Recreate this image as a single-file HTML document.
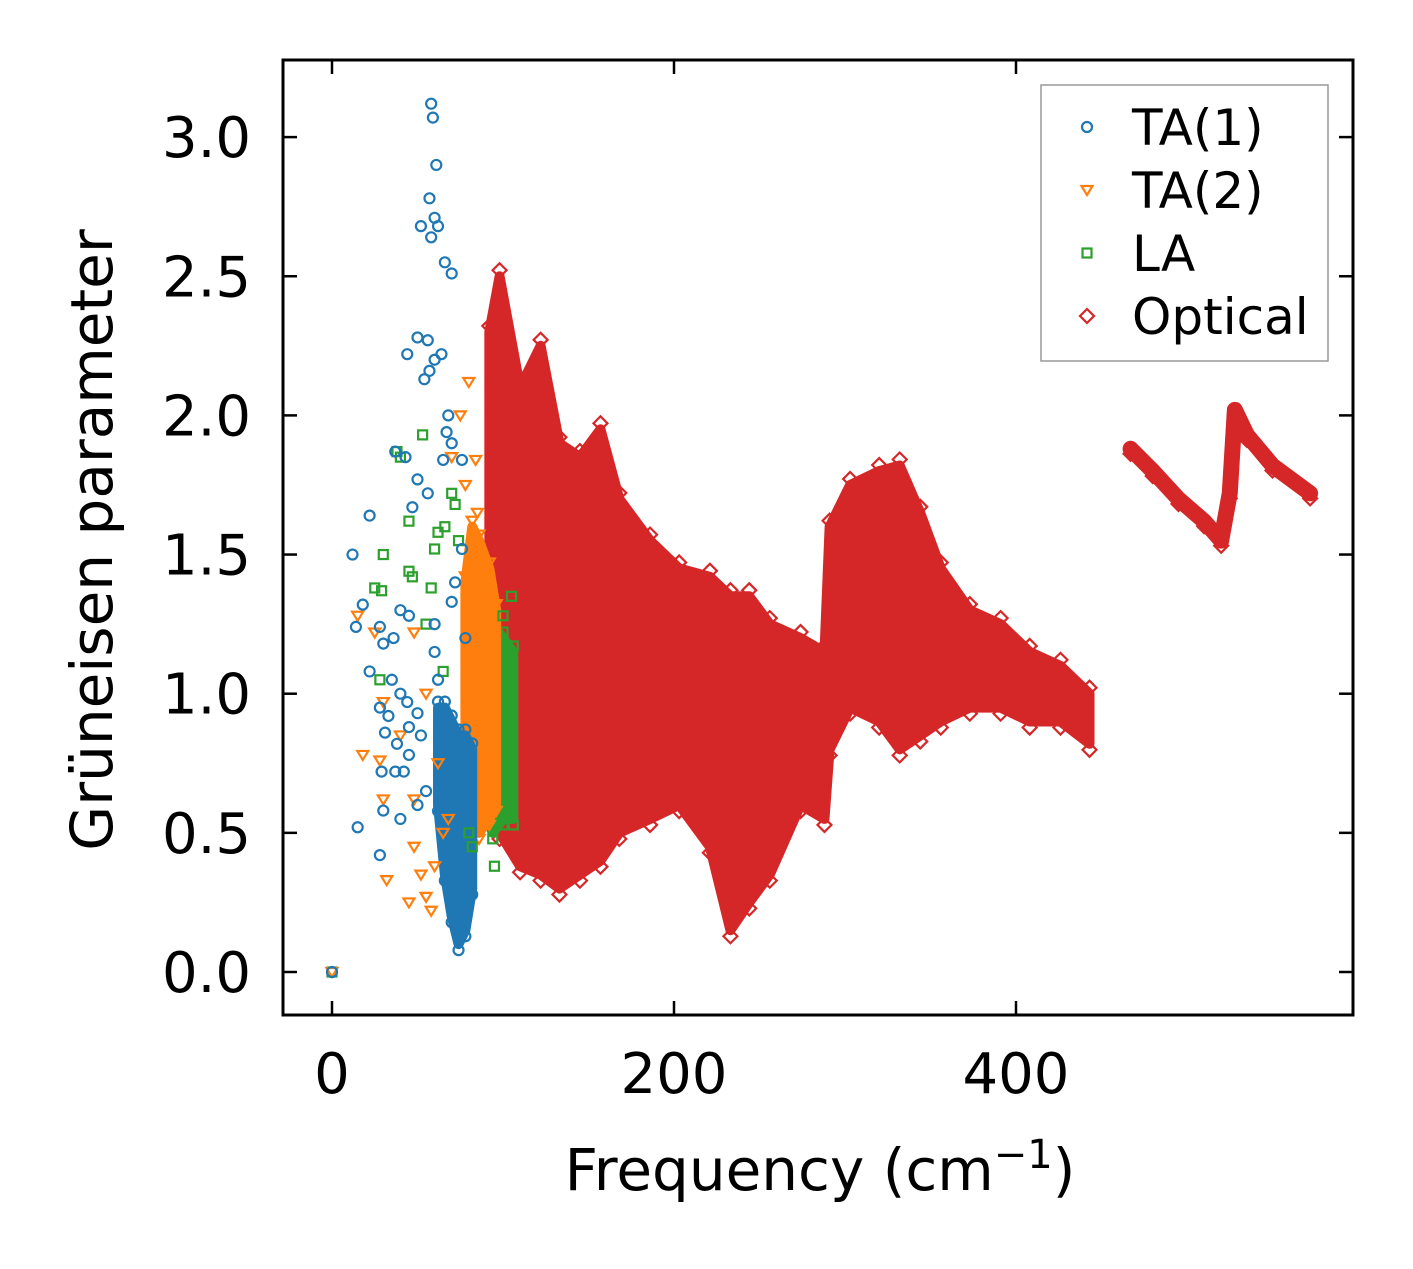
<!DOCTYPE html>
<html><head><meta charset="utf-8"><style>
body{margin:0;background:#fff}
svg text{font-family:"DejaVu Sans","Liberation Sans",sans-serif;fill:#000}
</style></head><body>
<svg id="chart" width="1413" height="1264" xmlns="http://www.w3.org/2000/svg">
<rect x="0" y="0" width="1413" height="1264" fill="#fff"/>
<g id="plot"></g>
<text x="820" y="1190" font-size="58" text-anchor="middle">Frequency (cm<tspan dy="-22" font-size="40">−1</tspan><tspan dy="22">)</tspan></text>
<text transform="translate(112,540) rotate(-90)" font-size="58" text-anchor="middle">Grüneisen parameter</text>
</svg>
<script>
const xTicks=[0,200,400];
const yTicks=[0.0,0.5,1.0,1.5,2.0,2.5,3.0];
const yTickLabels=["0.0","0.5","1.0","1.5","2.0","2.5","3.0"];
const ta1Freq=[0,58,59,61,57,52,60,62,58,66,70,50,56,44,60,64,54,57,68,67,70,37,43,65,76,50,56,47,22,12,76,18,14,40,45,28,30,36,22,35,40,44,28,33,50,31,45,38,29,37,45,42,30,40,15,28,50,55,60,62,52,72,70,78,60];
const ta1Gamma=[0,3.12,3.07,2.9,2.78,2.68,2.71,2.68,2.64,2.55,2.51,2.28,2.27,2.22,2.2,2.22,2.13,2.16,2.0,1.94,1.9,1.87,1.85,1.84,1.84,1.77,1.72,1.67,1.64,1.5,1.52,1.32,1.24,1.3,1.28,1.24,1.18,1.2,1.08,1.05,1.0,0.97,0.95,0.92,0.93,0.86,0.88,0.82,0.72,0.72,0.78,0.72,0.58,0.55,0.52,0.42,0.6,0.65,1.15,1.05,0.85,1.4,1.33,1.2,1.25];
const ta1EnvFreq=[62,66,70,74,78,82];
const ta1EnvUp=[0.95,0.95,0.9,0.85,0.85,0.8];
const ta1EnvLo=[0.6,0.35,0.2,0.1,0.15,0.3];
const ta2Freq=[0,15,25,30,18,28,30,32,45,58,55,48,52,60,65,80,84,78,48,40,48,55,62,68,75,85,70];
const ta2Gamma=[0,1.28,1.22,0.97,0.78,0.76,0.62,0.33,0.25,0.22,0.27,0.45,0.35,0.38,0.5,2.12,1.84,1.75,1.22,0.85,0.62,1.0,0.75,0.55,2.0,1.65,1.85];
const ta2EnvFreq=[78,82,86,92,96];
const ta2EnvUp=[1.4,1.6,1.55,1.45,1.3];
const ta2EnvLo=[0.75,0.55,0.5,0.55,0.6];
const laFreq=[0,38,40,53,45,47,45,25,29,30,28,58,62,66,70,72,74,60,55,65,80,82,95,105,100];
const laGamma=[0,1.87,1.85,1.93,1.62,1.42,1.44,1.38,1.37,1.5,1.05,1.38,1.58,1.6,1.72,1.68,1.55,1.52,1.25,1.08,0.5,0.45,0.38,1.35,1.28];
const laEnvFreq=[88,94,100,106];
const laEnvUp=[1.15,1.25,1.2,1.15];
const laEnvLo=[0.6,0.5,0.55,0.55];
const optEnvFreq=[92,98,110,122,133,145,157,168,186,203,221,233,244,256,274,288,291,303,320,332,344,356,373,391,408,426,443];
const optEnvUp=[2.3,2.5,2.1,2.25,1.9,1.85,1.95,1.7,1.55,1.45,1.42,1.35,1.35,1.25,1.2,1.15,1.6,1.75,1.8,1.82,1.65,1.45,1.3,1.25,1.15,1.1,1.0];
const optEnvLo=[0.6,0.5,0.38,0.35,0.3,0.35,0.4,0.5,0.55,0.6,0.45,0.15,0.25,0.35,0.6,0.55,0.8,0.95,0.9,0.8,0.85,0.9,0.95,0.95,0.9,0.9,0.82];
const optHighFreq=[467,480,495,510,520,525,528,535,550,572];
const optHighGamma=[1.88,1.8,1.7,1.62,1.55,1.72,2.02,1.93,1.82,1.72];

const NS="http://www.w3.org/2000/svg";
const X0=283,X1=1353,Y0=60,Y1=1015;
const sx=v=>332+v*1.71;
const sy=v=>972-v*278.3;
const plot=document.getElementById('plot');
function mk(t,a,p){const e=document.createElementNS(NS,t);for(const k in a)e.setAttribute(k,a[k]);(p||plot).appendChild(e);return e;}
const C={b:'#1f77b4',o:'#ff7f0e',g:'#2ca02c',r:'#d62728'};
function marker(kind,x,y,col,p){
  let e;
  if(kind==='c')e=mk('circle',{cx:x,cy:y,r:5,fill:'none',stroke:col,'stroke-width':2.2},p);
  else if(kind==='t')e=mk('path',{d:`M${x-5.5},${y-4}L${x+5.5},${y-4}L${x},${y+5}Z`,fill:'none',stroke:col,'stroke-width':2.2},p);
  else if(kind==='s')e=mk('rect',{x:x-4.5,y:y-4.5,width:9,height:9,fill:'none',stroke:col,'stroke-width':2.2},p);
  else e=mk('path',{d:`M${x},${y-7}L${x+7},${y}L${x},${y+7}L${x-7},${y}Z`,fill:'none',stroke:col,'stroke-width':2.2},p);
  return e;
}
function envelope(name,kind,f,up,lo,col){
  const g=mk('g',{});
  
  
  let pts=f.map((v,i)=>sx(v)+','+sy(up[i]));
  for(let i=f.length-1;i>=0;i--)pts.push(sx(f[i])+','+sy(lo[i]));
  const poly=mk('polygon',{points:pts.join(' '),fill:col,stroke:col,'stroke-width':10,'stroke-linejoin':'round'},g);
  
  
  f.forEach((v,i)=>{
    const a=marker(kind,sx(v),sy(up[i])-6,col,g);
    
    
    const b=marker(kind,sx(v),sy(lo[i])+6,col,g);
    
    
  });
}
function scatter(name,kind,f,gm,col){
  const g=mk('g',{});
  
  
  f.forEach((v,i)=>{
    const m=marker(kind,sx(v),sy(gm[i]),col,g);
    
    
  });
}
envelope('optical-band','d',optEnvFreq,optEnvUp,optEnvLo,C.r);
(function(){
  const g=mk('g',{});
  
  
  const s=optHighFreq.map((v,i)=>sx(v)+','+sy(optHighGamma[i]));
  const l=mk('polyline',{points:s.join(' '),fill:'none',stroke:C.r,'stroke-width':16,'stroke-linejoin':'round','stroke-linecap':'round'},g);
  
  
  optHighFreq.forEach((v,i)=>{
    const m=marker('d',sx(v),sy(optHighGamma[i])+5,C.r,g);
    
    
  });
})();
envelope('la-band','s',laEnvFreq,laEnvUp,laEnvLo,C.g);
envelope('ta2-band','t',ta2EnvFreq,ta2EnvUp,ta2EnvLo,C.o);
envelope('ta1-band','c',ta1EnvFreq,ta1EnvUp,ta1EnvLo,C.b);
scatter('la-series','s',laFreq,laGamma,C.g);
scatter('ta2-series','t',ta2Freq,ta2Gamma,C.o);
scatter('ta1-series','c',ta1Freq,ta1Gamma,C.b);

const fr=mk('rect',{x:X0,y:Y0,width:X1-X0,height:Y1-Y0,fill:'none',stroke:'#000','stroke-width':3});


xTicks.forEach(v=>{
  const x=sx(v);
  const t1=mk('line',{x1:x,x2:x,y1:Y1,y2:Y1-14,stroke:'#000','stroke-width':2.5});
  
  
  const t2=mk('line',{x1:x,x2:x,y1:Y0,y2:Y0+14,stroke:'#000','stroke-width':2.5});
  
  
  const lb=mk('text',{x:x,y:1093,'font-size':56,'text-anchor':'middle'});
  lb.textContent=String(v);
  
  
});
yTicks.forEach((v,i)=>{
  const y=sy(v);
  const t1=mk('line',{x1:X0,x2:X0+14,y1:y,y2:y,stroke:'#000','stroke-width':2.5});
  
  
  const t2=mk('line',{x1:X1,x2:X1-14,y1:y,y2:y,stroke:'#000','stroke-width':2.5});
  
  
  const lb=mk('text',{x:251,y:y+20,'font-size':56,'text-anchor':'end'});
  lb.textContent=yTickLabels[i];
  
  
});
const lg=mk('g',{});


const lbox=mk('rect',{x:1041,y:85,width:287,height:276,fill:'#fff','fill-opacity':0.8,stroke:'#999','stroke-width':1.5},lg);


const legNames=['TA(1)','TA(2)','LA','Optical'];
const legKinds=['c','t','s','d'];
const legCols=[C.b,C.o,C.g,C.r];
legNames.forEach((n,i)=>{
  const y=127+i*63;
  const e=mk('g',{},lg);
  
  
  marker(legKinds[i],1087,y,legCols[i],e);
  const t=mk('text',{x:1132,y:y+18,'font-size':50},e);
  t.textContent=n;
});
</script>
</body></html>
